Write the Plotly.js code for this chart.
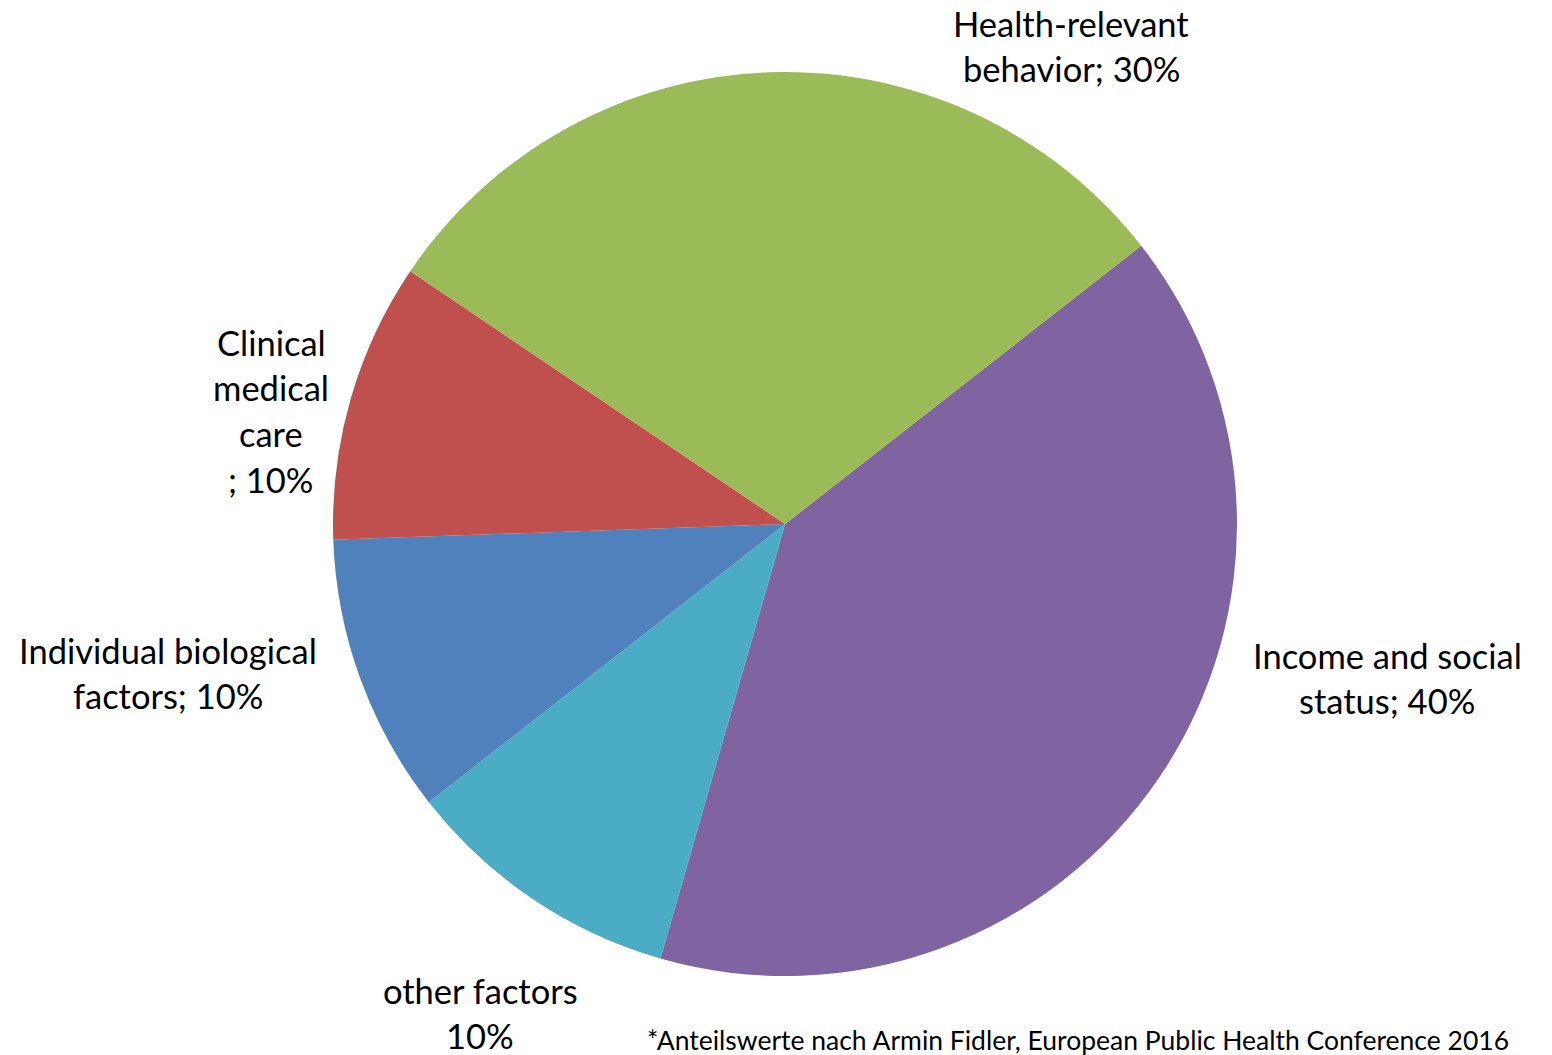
<!DOCTYPE html>
<html>
<head>
<meta charset="utf-8">
<script src="https://cdn.plot.ly/plotly-3.0.1.min.js"></script>
<style>html,body{margin:0;padding:0;background:#fff;}#chart{width:1552px;height:1055px;}</style>
</head>
<body>
<div id="chart"></div>
<script>
// ---- data ----
const categories = ['Income and social status', 'other factors', 'Individual biological factors', 'Clinical medical care', 'Health-relevant behavior'];
const shares = [40, 10, 10, 10, 30];
const sliceColors = ['#8064A2', '#4BACC6', '#4F81BD', '#C0504D', '#9BBB59'];
// label line breaks (text of category split into displayed lines) and separator before the value
const labelLines = [
  ['Income and social', 'status'],
  ['other factors', ''],
  ['Individual biological', 'factors'],
  ['Clinical', 'medical', 'care', ''],
  ['Health-relevant', 'behavior']
];
const valueSeparators = ['; ', '', '; ', '; ', '; '];
const footnote = '*Anteilswerte nach Armin Fidler, European Public Health Conference 2016';

// ---- layout (pixel positions of label blocks: center x, first-line center y) ----
const W = 1552, H = 1055;
const labelPos = [[1387, 655], [480, 990], [168, 650], [271, 342], [1071, 23]];
const lineGap = 45.7;
const cx = 785, cy = 524, R = 452;
const fontFam = 'Lato, "Open Sans", sans-serif';

const annotations = [];
labelLines.forEach((lines, i) => {
  const out = lines.slice();
  out[out.length - 1] = out[out.length - 1] + valueSeparators[i] + shares[i] + '%';
  out.forEach((t, j) => {
    annotations.push({
      text: t, showarrow: false, xref: 'paper', yref: 'paper',
      x: labelPos[i][0] / W, y: 1 - (labelPos[i][1] + j * lineGap) / H,
      xanchor: 'center', yanchor: 'middle',
      font: {family: fontFam, size: 34.5, color: '#000'}
    });
  });
});
annotations.push({
  text: footnote, showarrow: false, xref: 'paper', yref: 'paper',
  x: 1078 / W, y: 1 - 1040 / H, xanchor: 'center', yanchor: 'middle',
  font: {family: fontFam, size: 26.5, color: '#000'}
});

const trace = {
  type: 'pie',
  labels: categories,
  values: shares,
  sort: false,
  direction: 'clockwise',
  rotation: 52,
  marker: {colors: sliceColors, line: {width: 0}},
  textinfo: 'none',
  hoverinfo: 'label+percent',
  showlegend: false,
  domain: {x: [(cx - R) / W, (cx + R) / W], y: [1 - (cy + R) / H, 1 - (cy - R) / H]}
};

Plotly.newPlot('chart', [trace], {
  width: W, height: H,
  margin: {l: 0, r: 0, t: 0, b: 0},
  paper_bgcolor: '#fff',
  showlegend: false,
  annotations: annotations
}, {displayModeBar: false, staticPlot: true});
</script>
</body>
</html>
